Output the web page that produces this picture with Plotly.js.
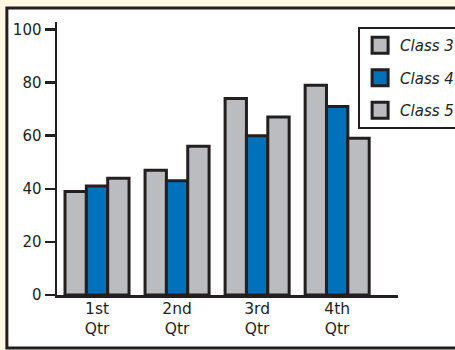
<!DOCTYPE html>
<html>
<head>
<meta charset="utf-8">
<script src="https://cdn.plot.ly/plotly-3.0.1.min.js"></script>
<style>html,body{margin:0;padding:0;background:#fdf8e2;}#chart{width:455px;height:350px;}</style>
</head>
<body>
<div id="chart"></div>
<script>
const categories = ["1st<br>Qtr", "2nd<br>Qtr", "3rd<br>Qtr", "4th<br>Qtr"];
const seriesNames = ["Class 3", "Class 4", "Class 5"];
const class3 = [39, 47, 74, 79];
const class4 = [41, 43, 60, 71];
const class5 = [44, 56, 67, 59];
const yTicks = [0, 20, 40, 60, 80, 100];
const groupBounds = [-0.5, 0.5, 1.5, 2.5, 3.5];

const ink = "#231f20";
const gray = "#bbbcbf";
const blue = "#0071bb";
const seriesValues = [class3, class4, class5];
const seriesColors = [gray, blue, gray];

const traces = [];
seriesValues.forEach((vals, i) => {
  traces.push({
    type: "bar", x: categories, y: vals, name: seriesNames[i],
    legendgroup: "g" + i, showlegend: false,
    marker: {color: seriesColors[i], line: {color: ink, width: 3}},
    hoverinfo: "skip"
  });
});
seriesValues.forEach((vals, i) => {
  traces.push({
    type: "scatter", mode: "markers", x: [null], y: [null], name: seriesNames[i],
    legendgroup: "g" + i, showlegend: true,
    marker: {symbol: "square", size: 16, color: seriesColors[i], line: {color: ink, width: 3}}
  });
});

const layout = {
  width: 455, height: 350,
  margin: {l: 57, r: 57, t: 22, b: 55, autoexpand: false},
  paper_bgcolor: "#fdf8e2",
  plot_bgcolor: "#ffffff",
  font: {family: "'Comic Sans MS', 'DejaVu Sans', sans-serif", color: ink, size: 15},
  barmode: "group", bargap: 0.2, bargroupgap: 0,
  showlegend: true,
  legend: {
    x: 0.883, y: 0.982, xanchor: "left", yanchor: "top",
    bgcolor: "#ffffff", bordercolor: ink, borderwidth: 2,
    font: {size: 15, style: "italic", color: ink},
    tracegroupgap: 10, itemsizing: "trace"
  },
  xaxis: {
    type: "category", categoryorder: "array", categoryarray: categories,
    range: [-0.5, 3.76], showline: true, linecolor: ink, linewidth: 3,
    ticks: "", showgrid: false, zeroline: false, fixedrange: true,
    ticklabelstandoff: -3,
    tickfont: {size: 15.5, color: ink}
  },
  xaxis2: {
    overlaying: "x", anchor: "y", range: [-0.5, 3.76],
    tickmode: "array", tickvals: groupBounds, ticks: "outside", ticklen: 7,
    tickwidth: 2.5, tickcolor: ink, showticklabels: false, showline: false,
    showgrid: false, zeroline: false
  },
  yaxis: {
    range: [0, 102.8], tickmode: "array", tickvals: yTicks,
    showline: true, linecolor: ink, linewidth: 2.5,
    ticks: "outside", ticklen: 10, tickwidth: 2.5, tickcolor: ink,
    showgrid: false, zeroline: false, tickfont: {size: 15, color: ink}
  },
  shapes: [{
    type: "rect", xref: "paper", yref: "paper",
    x0: -0.147, x1: 1.6, y0: -0.194, y1: 1.051,
    fillcolor: "#ffffff", line: {color: ink, width: 3}, layer: "below"
  }]
};

Plotly.newPlot("chart", traces, layout, {staticPlot: true, displayModeBar: false});
</script>
</body>
</html>
